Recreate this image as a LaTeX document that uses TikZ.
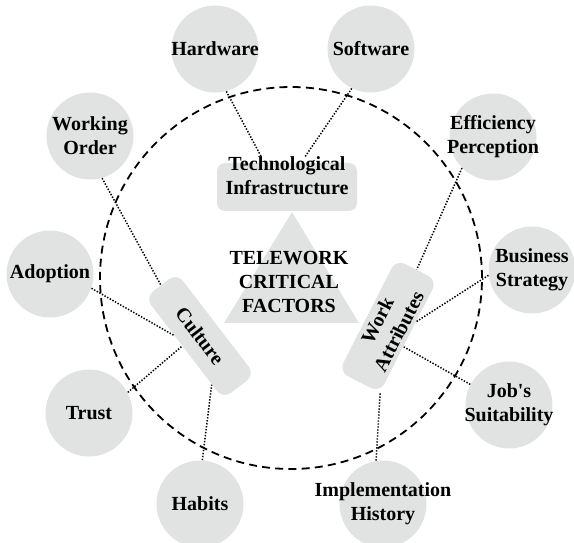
\documentclass[tikz,border=0pt]{standalone}
\usepackage{fontspec}
\setmainfont{Liberation Serif}
\usepackage{tikz}

\definecolor{factorgray}{RGB}{225,226,226}

\begin{document}
\begin{tikzpicture}[x=0.5pt,y=0.5pt,
  factor/.style={circle, fill=factorgray, minimum size=43.5pt, inner sep=0pt},
  ftext/.style={font=\bfseries, align=center, inner sep=0pt},
  pillar/.style={rectangle, rounded corners=5pt, fill=factorgray, font=\bfseries, align=center, inner sep=1pt},
  link/.style={line width=0.75pt, dash pattern=on 0.7pt off 0.8pt}]
\useasboundingbox (0,0) rectangle (574,542);

% Boundary
\draw[line width=0.9pt, dash pattern=on 4pt off 2.6pt] (291,264) circle [radius=95.5pt];

% Core triangle
\fill[factorgray] (224,219) -- (292,330) -- (359,219) -- cycle;
\node[ftext] (core) at (289,260) {TELEWORK\\CRITICAL\\FACTORS};

% Pillars
\node[pillar, minimum width=70pt, minimum height=24pt, rounded corners=4pt] (tech) at (287,355) {};
\node[ftext] (techtxt) at (287,366) {Technological\\Infrastructure};
\node[pillar, rotate=-52.5, minimum width=64pt, minimum height=20pt] (cult) at (200,206) {Culture};
\node[pillar, rotate=63, minimum width=63pt, minimum height=23pt] (wa) at (388,216) {Work\\Attributes};

% Technology factors
\node[factor, label={[ftext]center:Hardware}] (hw) at (215,493) {};
\node[factor, label={[ftext]center:Software}] (sw) at (371,493) {};

% Culture factors
\node[factor, label={[ftext]center:{Working\\Order}}] (wo) at (90,406) {};
\node[factor, label={[ftext]center:Adoption}] (ad) at (50,268) {};
\node[factor, label={[ftext]center:Trust}] (tr) at (89,129) {};
\node[factor, label={[ftext]center:Habits}] (hb) at (200,38) {};

% Work factors
\node[factor, label={[ftext]center:{Efficiency\\Perception}}] (ep) at (493,405) {};
\node[factor, label={[ftext]center:{Business\\Strategy}}] (bs) at (532,272) {};
\node[factor, label={[ftext]center:{Job\textquotesingle s\\Suitability}}] (js) at (509,137) {};
\node[factor, label={[ftext]center:{Implementation\\History}}] (ih) at (383,38) {};

% Links
\draw[link] (hw.285) -- (techtxt.143);
\draw[link] (sw.244) -- (techtxt.47);
\draw[link] (wo.286) -- (cult.west);
\draw[link] (ad.341) -- (cult.231);
\draw[link] (tr.28) -- (cult.262);
\draw[link] (hb.87) -- (cult.336);
\draw[link] (ep.225) -- (wa.east);
\draw[link] (bs.187) -- (wa.306);
\draw[link] (js.152) -- (wa.244);
\draw[link] (ih.99) -- (wa.south west);
\end{tikzpicture}
\end{document}
